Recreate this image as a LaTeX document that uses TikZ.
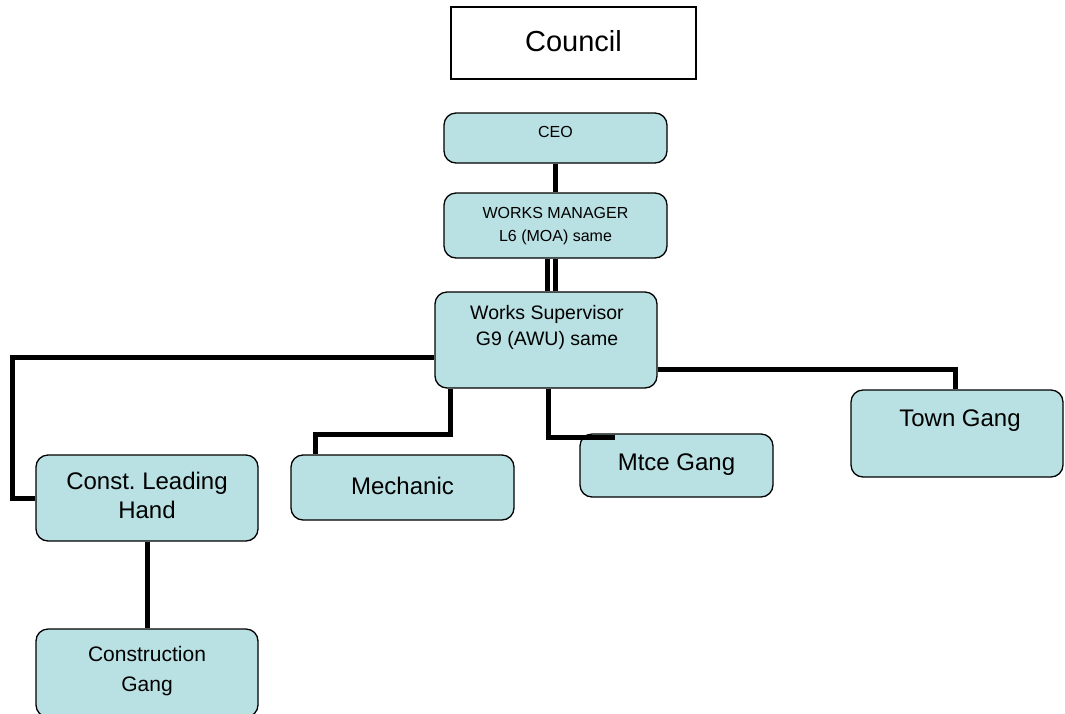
\documentclass[tikz,border=0pt]{standalone}
\usepackage{fontspec}
\setmainfont{Liberation Sans}
\definecolor{boxfill}{RGB}{185,224,226}
\begin{document}
\begin{tikzpicture}[x=1pt,y=-1pt,
  orgbox/.style={draw=black, line width=1.3pt, rounded corners=12pt, fill=boxfill, inner sep=0pt},
  plainbox/.style={draw=black, line width=1.5pt, fill=white, inner sep=0pt},
  lbl/.style={align=center, inner sep=0pt},
  conn/.style={line width=5pt},
  thinconn/.style={line width=4.5pt}]
\useasboundingbox (0,0) rectangle (1065,713);
% boxes
\node[plainbox, minimum width=245pt, minimum height=72pt] (council) at (573.5,43) {};
\node[lbl, font=\fontsize{29}{34}\selectfont] (councilt) at (573.5,41) {Council};
\node[orgbox, minimum width=223pt, minimum height=50pt] (ceo) at (555.5,138) {};
\node[lbl, font=\fontsize{16}{20}\selectfont] (ceot) at (555.5,132) {CEO};
\node[orgbox, minimum width=223pt, minimum height=65pt] (wm) at (555.5,225.5) {};
\node[lbl, font=\fontsize{16}{23}\selectfont] (wmt) at (555.5,226) {WORKS MANAGER\\L6 (MOA) same};
\node[orgbox, minimum width=222pt, minimum height=96pt] (ws) at (546,340) {};
\node[lbl, font=\fontsize{19.5}{26}\selectfont] (wst) at (547,327) {Works Supervisor\\G9 (AWU) same};
\node[orgbox, minimum width=222pt, minimum height=86pt] (clh) at (147,498) {};
\node[lbl, font=\fontsize{24}{29}\selectfont] (clht) at (147,495) {Const.\ Leading\\Hand};
\node[orgbox, minimum width=223pt, minimum height=65pt] (mech) at (402.5,487.5) {};
\node[lbl, font=\fontsize{24}{29}\selectfont] (mecht) at (402.5,486) {Mechanic};
\node[orgbox, minimum width=193pt, minimum height=63pt] (mtce) at (676.5,465.5) {};
\node[lbl, font=\fontsize{24}{29}\selectfont] (mtcet) at (676.5,465) {Mtce Gang};
\node[orgbox, minimum width=212pt, minimum height=87pt] (town) at (957,433.5) {};
\node[lbl, font=\fontsize{24}{29}\selectfont] (townt) at (960,421) {Town Gang};
\node[orgbox, minimum width=222pt, minimum height=88pt] (cg) at (147,673) {};
\node[lbl, font=\fontsize{21}{30}\selectfont] (cgt) at (147,671) {Construction\\Gang};
% connectors
\draw[conn] (ceo.south) -- (wm.north);
\draw[thinconn] ([xshift=-8pt]wm.south) -- ([xshift=-8pt]wm.south |- ws.north);
\draw[thinconn] (wm.south) -- (wm.south |- ws.north);
\coordinate (lcorner) at (12,357);
\draw[conn] (ws.west |- lcorner) -- (lcorner) |- (clh.west);
\coordinate (mechtop) at (315,0);
\draw[conn] (ws.south -| 450,0) |- (mechtop |- 0,434) -- (mechtop |- mech.north);
\coordinate (mtceend) at (615,437);
\draw[conn] (ws.south -| 548,0) |- (mtceend);
\coordinate (towntop) at (955,0);
\draw[conn] (ws.east |- 0,369) -| (towntop |- town.north);
\draw[conn] (clh.south) -- (cg.north);
\end{tikzpicture}
\end{document}
